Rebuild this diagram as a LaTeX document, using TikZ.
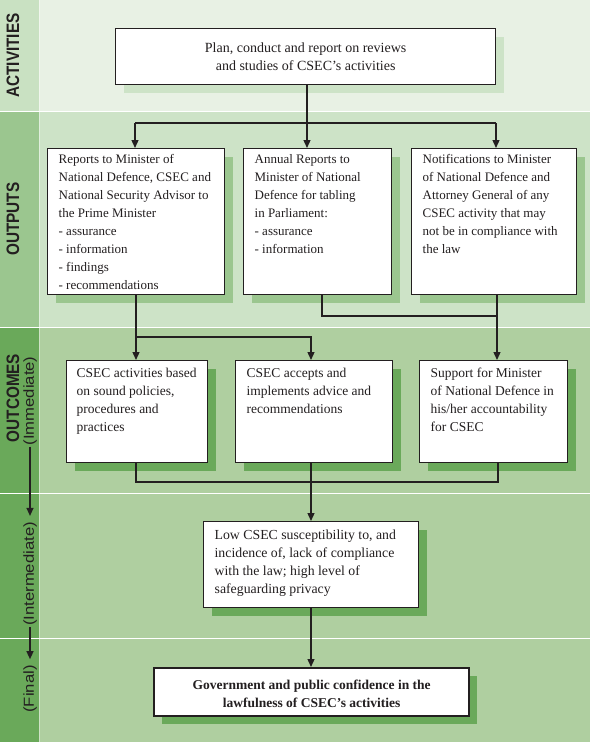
\documentclass[tikz,border=0pt]{standalone}
\usepackage{fontspec}
\setmainfont{Liberation Serif}
\newfontfamily\labfont[FakeStretch=0.85]{Liberation Sans}
\newfontfamily\sublabfont[FakeStretch=1.15]{Liberation Sans}
\usetikzlibrary{arrows.meta,shadows}
\definecolor{bgA}{HTML}{E8F1E4}
\definecolor{colA}{HTML}{C9E1C2}
\definecolor{bgB}{HTML}{CDE3C7}
\definecolor{colB}{HTML}{9BC68F}
\definecolor{bgC}{HTML}{AFCFA0}
\definecolor{colC}{HTML}{6AA95A}
\definecolor{ink}{HTML}{231F20}
% width, height, top gap, text
\newcommand{\boxtxt}[4]{\parbox[c][#2][t]{#1}{\vspace*{#3}\raggedright\strut #4}}
\newcommand{\boxctr}[4]{\parbox[c][#2][t]{#1}{\vspace*{#3}\centering\strut #4}}
\tikzset{
  boxbase/.style={draw=ink, line width=1.3pt, fill=white, text=ink,
    font=\fontsize{13}{18}\selectfont, inner xsep=11pt, inner ysep=2pt, anchor=north west},
  shA/.style={drop shadow={fill=bgB, opacity=1, shadow xshift=8pt, shadow yshift=-8pt}},
  shB/.style={drop shadow={fill=colB, opacity=1, shadow xshift=8pt, shadow yshift=-8pt}},
  shC/.style={drop shadow={fill=colC, opacity=1, shadow xshift=8pt, shadow yshift=-8pt}},
  big/.style={font=\fontsize{13.5}{18}\selectfont},
  arr/.style={draw=ink, line width=1.3pt, -{Triangle[length=8pt,width=7pt]}},
  ln/.style={draw=ink, line width=1.3pt},
  mainlab/.style={rotate=90, inner sep=0pt, text=ink, font=\labfont\bfseries\fontsize{18}{20}\selectfont},
  sublab/.style={rotate=90, inner sep=0pt, text=ink, font=\sublabfont\fontsize{14.5}{16}\selectfont},
  sep/.style={draw=white, line width=1pt}
}
\begin{document}
\begin{tikzpicture}[x=1pt,y=-1pt]
\useasboundingbox (0,0) rectangle (590,742);
% section backgrounds
\fill[bgA] (0,0) rectangle (590,111);
\fill[colA] (0,0) rectangle (39,111);
\fill[bgB] (0,111) rectangle (590,327);
\fill[colB] (0,111) rectangle (39,327);
\fill[bgC] (0,327) rectangle (590,742);
\fill[colC] (0,327) rectangle (39,742);
\draw[sep] (0,111) -- (590,111);
\draw[sep] (0,327) -- (590,327);
\draw[sep] (0,493) -- (590,493);
\draw[sep] (0,638) -- (590,638);
\draw[draw=white, line width=0.6pt, opacity=0.4] (39.3,0) -- (39.3,742);

% left labels
\node[mainlab] (actL) at (13,55.5) {ACTIVITIES};
\node[mainlab] (outL) at (13,219) {OUTPUTS};
\node[mainlab] (ocL) at (13,398) {OUTCOMES};
\node[sublab] (immL) at (30,401) {(Immediate)};
\node[sublab] (intL) at (30,574) {(Intermediate)};
\node[sublab] (finL) at (30,689) {(Final)};
\draw[arr, shorten <=1pt, shorten >=6pt] (immL.west) -- (intL.east);
\draw[arr, shorten <=1pt, shorten >=6pt] (intL.west) -- (finL.east);

% boxes
\node[boxbase, shA, font=\fontsize{14}{18}\selectfont, inner xsep=0pt] (top) at (115,28)
  {\boxctr{380pt}{52pt}{9.4pt}{Plan, conduct and report on reviews\\ and studies of CSEC’s activities}};

\node[boxbase, shB] (out1) at (47,148) {\boxtxt{155pt}{142pt}{0pt}{Reports to Minister of\\ National Defence, CSEC and\\ National Security Advisor to\\ the Prime Minister\\ - assurance\\ - information\\ - findings\\ - recommendations}};
\node[boxbase, shB] (out2) at (243,148) {\boxtxt{126pt}{142pt}{0pt}{Annual Reports to\\ Minister of National\\ Defence for tabling\\ in Parliament:\\ - assurance\\ - information}};
\node[boxbase, shB] (out3) at (411,148) {\boxtxt{143pt}{142pt}{0pt}{Notifications to Minister\\ of National Defence and\\ Attorney General of any\\ CSEC activity that may\\ not be in compliance with\\ the law}};

\node[boxbase, big, shC, inner xsep=10pt] (oc1) at (66,360) {\boxtxt{121pt}{98pt}{2.4pt}{CSEC activities based\\ on sound policies,\\ procedures and\\ practices}};
\node[boxbase, big, shC] (oc2) at (235,360) {\boxtxt{135pt}{98pt}{2.4pt}{CSEC accepts and\\ implements advice and\\ recommendations}};
\node[boxbase, big, shC] (oc3) at (419,360) {\boxtxt{126pt}{98pt}{2.4pt}{Support for Minister\\ of National Defence in\\ his/her accountability\\ for CSEC}};

\node[boxbase, shC, font=\fontsize{13.8}{18}\selectfont] (inter) at (203,521) {\boxtxt{193pt}{82pt}{3.4pt}{Low CSEC susceptibility to, and\\ incidence of, lack of compliance\\ with the law; high level of\\ safeguarding privacy}};

\node[boxbase, shC, line width=2.2pt, inner xsep=0pt, font=\bfseries\fontsize{13.5}{18}\selectfont] (final) at (153,667)
  {\boxctr{315pt}{44pt}{6.4pt}{Government and public confidence in the\\ lawfulness of CSEC’s activities}};

% connectors: activities -> outputs
\coordinate (jTop) at (307,123);
\coordinate (jL) at (135,123);
\coordinate (jR) at (496,123);
\draw[arr] (jTop |- top.south) -- (jTop |- out2.north);
\draw[ln] (jL) -- (jR);
\draw[arr] (jL) -- (jL |- out1.north);
\draw[arr] (jR) -- (jR |- out3.north);

% outputs -> outcomes
\coordinate (a1) at (136,337);
\coordinate (a2) at (311,337);
\draw[arr] (a1 |- out1.south) -- (a1 |- oc1.north);
\draw[arr] (a1) -- (a2) -- (a2 |- oc2.north);
\coordinate (b1) at (322,316);
\coordinate (b2) at (497,316);
\draw[ln] (b1 |- out2.south) -- (b1) -- (b2);
\draw[arr] (b2 |- out3.south) -- (b2 |- oc3.north);

% outcomes -> intermediate -> final
\coordinate (c1) at (136,482);
\coordinate (c2) at (311,482);
\coordinate (c3) at (498,482);
\draw[ln] (c1 |- oc1.south) -- (c1) -- (c3) -- (c3 |- oc3.south);
\draw[arr] (c2 |- oc2.south) -- (c2 |- inter.north);
\draw[arr] (inter.south -| c2) -- (final.north -| c2);
\end{tikzpicture}
\end{document}
